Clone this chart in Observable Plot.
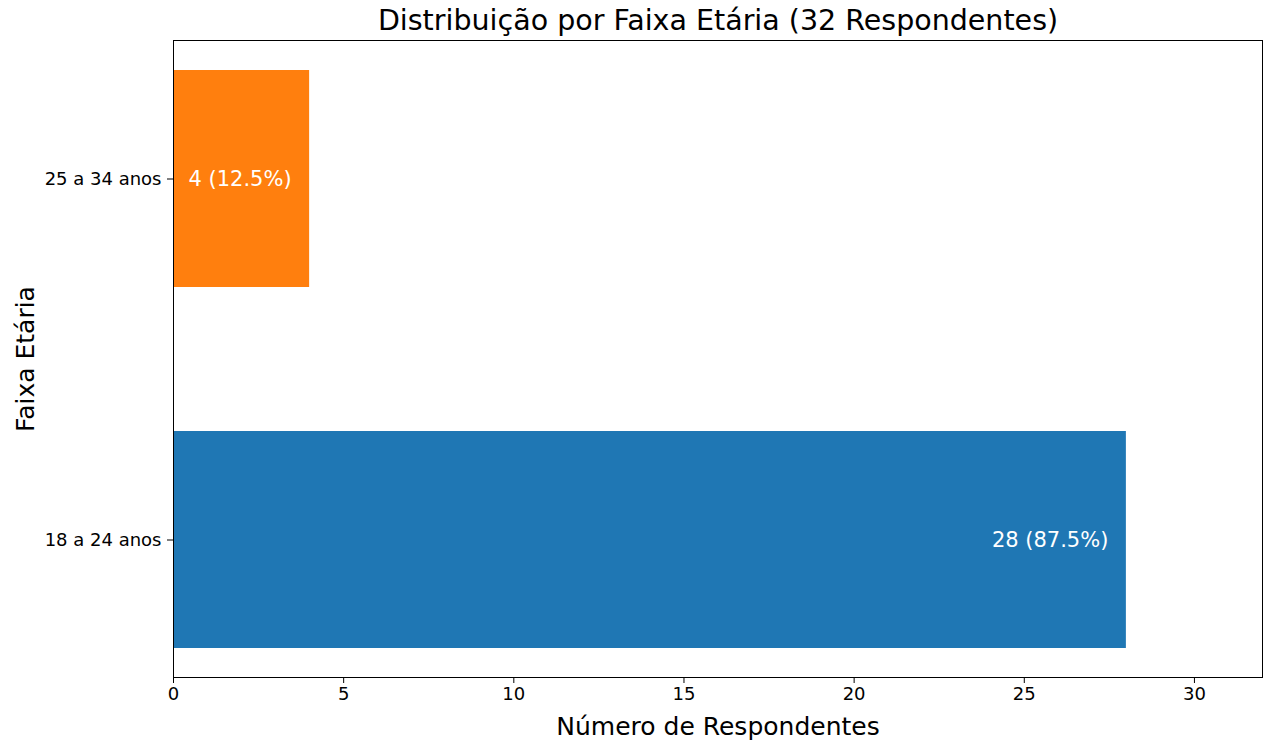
<!DOCTYPE html>
<html>
<head>
<meta charset="utf-8">
<script src="https://cdn.jsdelivr.net/npm/d3@7"></script>
<script src="https://cdn.jsdelivr.net/npm/@observablehq/plot@0.6"></script>
<style>
  html, body { margin: 0; padding: 0; background: #fff; }
  svg { display: block; }
</style>
</head>
<body>
<div id="chart"></div>
<script>
const categories = ["18 a 24 anos", "25 a 34 anos"];
const counts = [28, 4];
const barColors = ["#1f77b4", "#ff7f0e"];
const xTicks = [0, 5, 10, 15, 20, 25, 30];
const title = "Distribuição por Faixa Etária (32 Respondentes)";
const xLabel = "Número de Respondentes";
const yLabel = "Faixa Etária";

const total = d3.sum(counts);
const data = categories.map((c, i) => ({
  cat: c,
  n: counts[i],
  color: barColors[i],
  label: `${counts[i]} (${(counts[i] / total * 100).toFixed(1)}%)`
}));

const chart = Plot.plot({
  width: 1266,
  height: 740,
  marginLeft: 173,
  marginRight: 4,
  marginTop: 40,
  marginBottom: 63,
  style: { fontFamily: "DejaVu Sans", background: "#fff", color: "black" },
  x: { domain: [0, 32] },
  y: { domain: ["25 a 34 anos", "18 a 24 anos"], paddingInner: 0.4, paddingOuter: 0.08 },
  color: { type: "identity" },
  marks: [
    Plot.barX(data, { x: "n", y: "cat", fill: "color" }),
    Plot.text(data, { x: "n", y: "cat", text: "label", textAnchor: "end", dx: -18, fill: "white", fontSize: 21 }),
    Plot.frame({ stroke: "black", strokeWidth: 1 }),
    Plot.axisX({ ticks: xTicks, tickSize: 6, tickPadding: 4, fontSize: 18, label: null, stroke: "black" }),
    Plot.axisY({ tickSize: 6, tickPadding: 6, fontSize: 18, label: null, stroke: "black" }),
    Plot.text([title], { frameAnchor: "top", dy: -20, lineAnchor: "middle", textAnchor: "middle", fontSize: 28.5, fill: "black" }),
    Plot.text([xLabel], { frameAnchor: "bottom", dy: 49, lineAnchor: "middle", textAnchor: "middle", fontSize: 25, fill: "black" }),
    Plot.text([yLabel], { frameAnchor: "left", dx: -148, rotate: -90, lineAnchor: "middle", textAnchor: "middle", fontSize: 25, fill: "black" })
  ]
});
document.getElementById("chart").appendChild(chart);
</script>
</body>
</html>
